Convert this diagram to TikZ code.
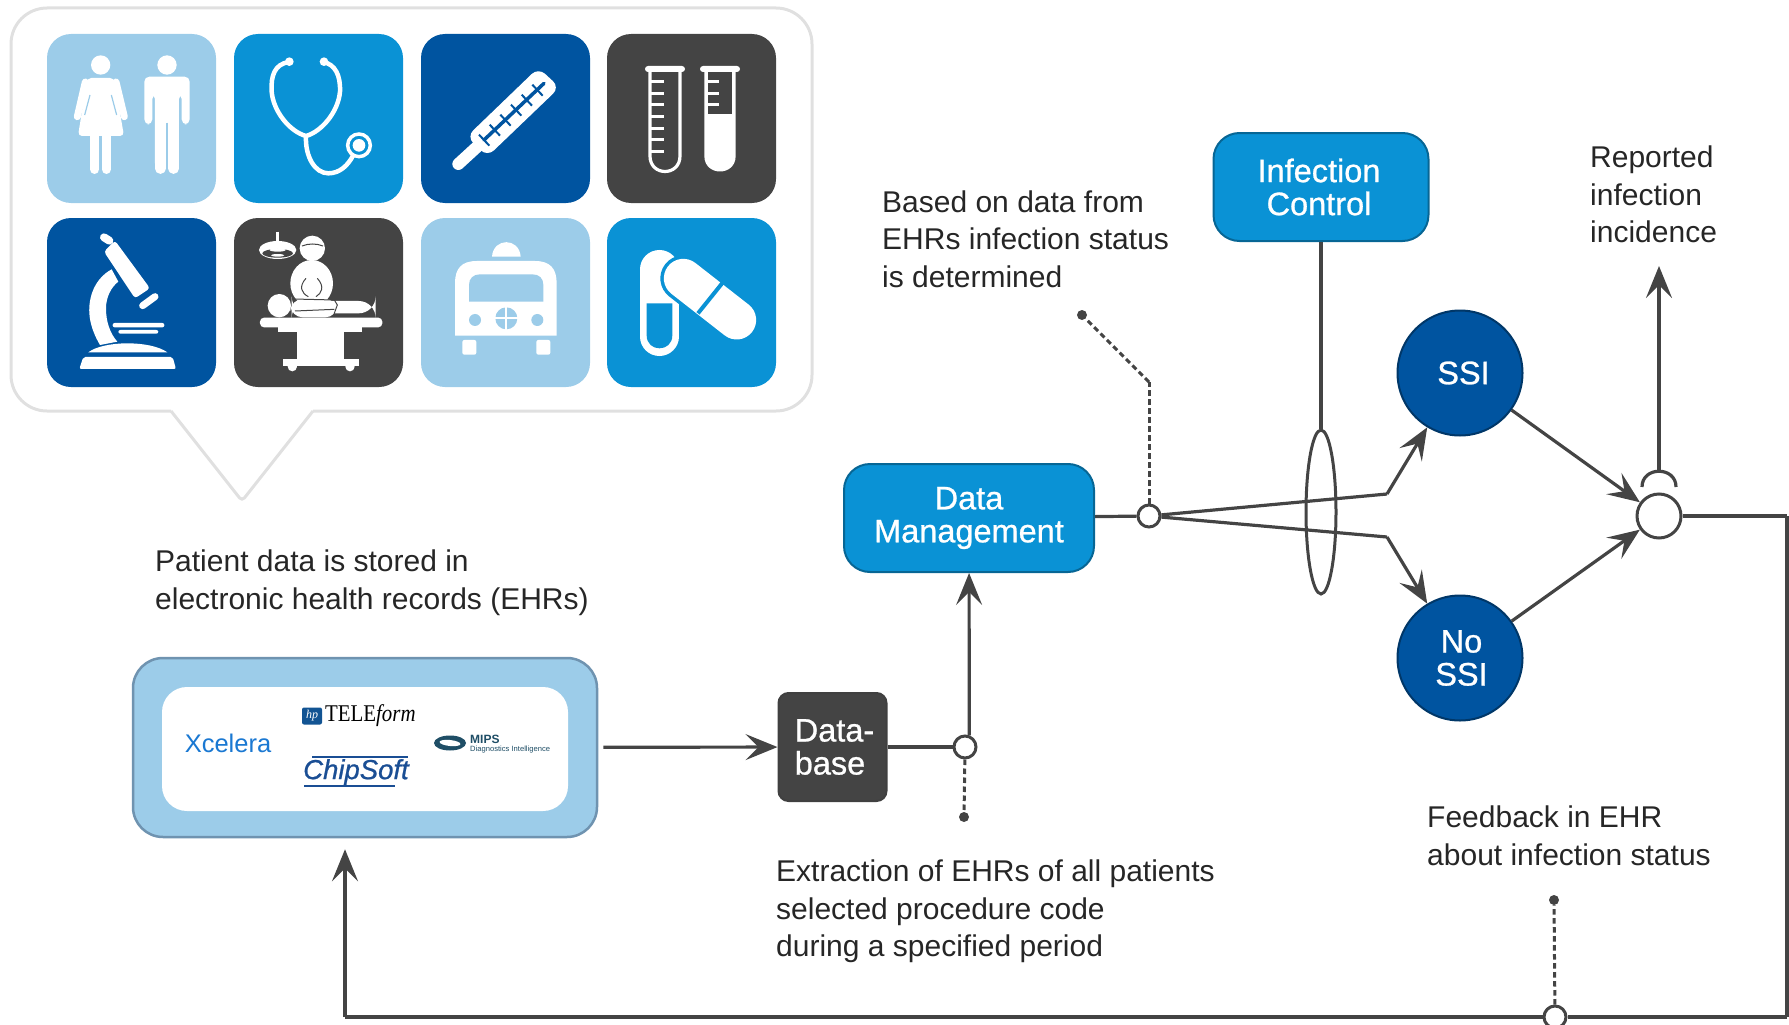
\documentclass[tikz,border=0pt]{standalone}
\usepackage{fontspec}
\setmainfont{Liberation Sans}
\newfontfamily\logoserif{Liberation Serif}
\newfontfamily\labelfont[FakeBold=0.8]{Liberation Sans}
\usetikzlibrary{arrows.meta,shapes.geometric}
\definecolor{tilelight}{HTML}{9CCCE9}
\definecolor{tileblue}{HTML}{0A92D5}
\definecolor{tilenavy}{HTML}{0054A0}
\definecolor{tiledark}{HTML}{444444}
\definecolor{linedark}{HTML}{444444}
\definecolor{calloutgrey}{HTML}{E0E0E0}
\definecolor{boxedge}{HTML}{6F93B0}
\definecolor{logoblue}{HTML}{1A78D2}
\definecolor{logonavy}{HTML}{1A4E94}
\definecolor{logoteal}{HTML}{1F4E66}
\tikzset{
  tile/.style={rectangle, rounded corners=24pt, minimum size=169pt, inner sep=0pt},
  textnote/.style={anchor=west, align=left, inner sep=0pt, text=black!85,
    font=\fontsize{30}{37.6}\selectfont},
  boxlabel/.style={text=white, align=center, font=\labelfont\fontsize{32.5}{33}\selectfont},
  lanebox/.style={rectangle, rounded corners=26pt, fill=tileblue, draw=tileblue!70!black,
    line width=2pt, inner sep=0pt, boxlabel},
  outcome/.style={circle, fill=tilenavy, draw=tilenavy!65!black, line width=2pt,
    minimum size=125pt, inner sep=0pt, boxlabel},
  junction/.style={circle, fill=white, draw=linedark, line width=3pt, inner sep=0pt},
  tinydot/.style={circle, fill=linedark, inner sep=0pt, minimum size=10pt},
}
\begin{document}
\begin{tikzpicture}[x=1pt,y=-1pt]
  % callout
  \draw[calloutgrey, line width=3pt, rounded corners=36pt] (171,411) -- (11,411) -- (11,8) -- (812,8) -- (812,411) -- (313,411);
  \draw[calloutgrey, line width=3pt, rounded corners=4pt] (171,411) -- (242,501) -- (313,411);

  % tiles
  \begin{scope}[every node/.style={tile}]
    \node[fill=tilelight] (people)  at (131.5,118.5) {};
    \node[fill=tileblue]  (stetho)  at (318.5,118.5) {};
    \node[fill=tilenavy]  (thermo)  at (505.5,118.5) {};
    \node[fill=tiledark]  (tubes)   at (691.5,118.5) {};
    \node[fill=tilenavy]  (micro)   at (131.5,302.5) {};
    \node[fill=tiledark]  (surgery) at (318.5,302.5) {};
    \node[fill=tilelight] (ambu)    at (505.5,302.5) {};
    \node[fill=tileblue]  (pills)   at (691.5,302.5) {};
  \end{scope}

  % icons of the two left columns
  \begin{scope}[scale=1/3, white]
    % woman
    \fill (302,195) circle[radius=29];
    \fill[rounded corners=4pt] (262,234) -- (342,234) -- (372,408) -- (234,408) -- cycle;
    \draw[line width=7pt, line cap=round] (256,246) -- (232,350);
    \draw[line width=7pt, line cap=round] (348,246) -- (373,350);
    \draw[tilelight, line width=1.2pt] (270,285) -- (254,345);
    \draw[tilelight, line width=1.2pt] (334,285) -- (350,345);
    \draw[line width=9.3pt, line cap=round] (284,400) -- (284,508);
    \draw[line width=9.3pt, line cap=round] (319,400) -- (319,508);
    % man
    \fill (501,195) circle[radius=29];
    \fill[rounded corners=5pt] (433,373) -- (433,230) -- (569,230) -- (569,373) -- (545,373) -- (545,282) -- (537,282) -- (537,505) -- (465,505) -- (465,282) -- (457,282) -- (457,373) -- cycle;
    \draw[line width=10.5pt, line cap=round] (481,490) -- (481,506);
    \draw[line width=10.5pt, line cap=round] (521,490) -- (521,506);
    \draw[tilelight, line width=2.6pt] (501,368) -- (501,525);
    % stethoscope
    \draw[line width=4.5pt] (866,186) .. controls (825,193) and (812,225) .. (815,275) .. controls (820,335) and (870,395) .. (918,408) .. controls (965,395) and (1015,335) .. (1020,275) .. controls (1022,225) and (1005,193) .. (970,186);
    \draw[line width=4.5pt] (918,408) .. controls (915,470) and (945,520) .. (985,520) .. controls (1020,520) and (1045,495) .. (1060,465);
    \draw[line width=3.5pt] (1077,436) circle[radius=34];
    \fill (1077,436) circle[radius=19];
    \fill (868,185) circle[radius=13];
    \fill (972,185) circle[radius=13];
    % microscope
    \fill[rounded corners=3pt] (312,755) -- (345,722) -- (450,865) -- (405,895) -- cycle;
    \draw[line width=8pt, line cap=round] (312,712) -- (328,722);
    \draw[line width=7pt, line cap=round] (428,917) -- (465,890);
    \fill (335,808) .. controls (285,835) and (265,890) .. (268,940) .. controls (270,975) and (285,1010) .. (300,1035) -- (352,1025) .. controls (330,1000) and (318,965) .. (318,925) .. controls (318,890) and (335,860) .. (355,845) -- cycle;
    \fill[rounded corners=2pt] (338,969) rectangle (493,982);
    \fill[rounded corners=2pt] (355,990) rectangle (475,1001);
    \fill (265,1057) .. controls (310,1022) and (450,1020) .. (502,1057) -- cycle;
    \fill[rounded corners=2pt] (250,1071) -- (518,1071) -- (528,1107) -- (238,1107) -- cycle;
    % surgeon and patient
    \draw[line width=3pt] (833,695) -- (833,725);
    \fill (833,750) ellipse[x radius=56, y radius=27];
    \fill[tiledark] (833,760) ellipse[x radius=46, y radius=13];
    \fill (833,750) ellipse[x radius=24, y radius=5];
    \fill (833,766) ellipse[x radius=20, y radius=4];
    \fill (937,745) circle[radius=38];
    \draw[tiledark, line width=1pt] (906,738) .. controls (925,730) and (950,730) .. (969,738);
    \fill (935,850) ellipse[x radius=64, y radius=70];
    \draw[tiledark, line width=1pt] (918,835) .. controls (895,860) and (905,880) .. (925,890);
    \draw[tiledark, line width=1pt] (952,835) .. controls (975,860) and (965,880) .. (948,890);
    \fill (838,917) circle[radius=35];
    \fill[rounded corners=17pt] (875,903) rectangle (1127,940);
    \fill[rounded corners=12pt] (872,897) rectangle (1012,952);
    \draw[tiledark, line width=1pt] (885,933) -- (1003,928);
    \draw[tiledark, line width=1pt] (880,897) -- (1003,900) -- (1012,915) -- (1000,948);
    \fill[rounded corners=4pt] (780,953) rectangle (1147,982);
    \fill (835,975) rectangle (1087,997);
    \fill (890,990) rectangle (1033,1080);
    \fill (850,1076) rectangle (1077,1097);
    \fill (877,1100) circle[radius=14];
    \fill (1050,1100) circle[radius=14];
  \end{scope}

  % icons of the two right columns
  \begin{scope}[shift={(410,0)}, scale=1/3, white]
    % thermometer
    \draw[line width=12pt, line cap=round] (145,492) -- (205,437);
    \fill[rounded corners=9pt] (170,410) -- (385,203) -- (449,262) -- (232,470) -- cycle;
    \draw[tilenavy, line width=3.5pt, line cap=round] (222,420) -- (402,250);
    \foreach \i in {0,...,5} {
      \draw[tilenavy, line width=2pt] ({222+32*\i-15},{420-30*\i-16}) -- ({222+32*\i+16},{420-30*\i+17});
    }
    % test tubes
    \fill[rounded corners=3pt] (705,198) rectangle (825,216);
    \fill[rounded corners=3pt] (870,198) rectangle (990,216);
    \draw[line width=3.2pt] (720,216) -- (720,468) .. controls (720,530) and (810,530) .. (810,468) -- (810,216);
    \foreach \y in {245,280,315,350,385,420,455} {
      \draw[line width=3pt] (720,\y) -- (762,\y);
    }
    \fill (883,216) -- (883,468) .. controls (883,530) and (977,530) .. (977,468) -- (977,216) -- cycle;
    \fill[tiledark] (895,216) rectangle (965,342);
    \foreach \y in {245,280,315} {
      \draw[line width=3pt] (893,\y) -- (927,\y);
    }
    % ambulance
    \fill (246,770) .. controls (250,712) and (328,712) .. (332,770) -- cycle;
    \fill (135,1007) -- (135,850) .. controls (135,805) and (155,783) .. (200,783) -- (375,783) .. controls (420,783) and (440,805) .. (440,850) -- (440,1007) -- cycle;
    \fill[tilelight] (177,905) -- (177,855) .. controls (177,835) and (190,823) .. (210,823) -- (367,823) .. controls (388,823) and (400,835) .. (400,855) -- (400,905) -- cycle;
    \fill[tilelight] (195,960) circle[radius=18];
    \fill[tilelight] (382,960) circle[radius=18];
    \fill[tilelight] (289,955) circle[radius=33];
    \draw[line width=2pt] (289,920) -- (289,990);
    \draw[line width=2pt] (254,955) -- (324,955);
    \fill[rounded corners=2pt] (157,1020) rectangle (199,1064);
    \fill[rounded corners=2pt] (379,1020) rectangle (421,1064);
    % capsules
    \draw[line width=38.7pt, line cap=round] (748,808) -- (748,1010);
    \fill[tileblue] (710,910) -- (787,910) -- (787,1006) .. controls (787,1058) and (710,1058) .. (710,1006) -- cycle;
    \draw[tileblue, line width=46pt, line cap=round] (820,835) -- (980,960);
    \draw[line width=39pt, line cap=round] (820,835) -- (980,960);
    \draw[tileblue, line width=4pt] (938,848) -- (864,940);
  \end{scope}

  % main nodes
  \node[rectangle, rounded corners=30pt, fill=tilelight, draw=boxedge, line width=2.5pt, minimum width=464pt, minimum height=179pt, inner sep=0pt] (ehr) at (365,747.5) {};
  \node[rectangle, rounded corners=25pt, fill=white, minimum width=406pt, minimum height=124pt, inner sep=0pt] (inner) at (365,749) {};
  \node[rectangle, rounded corners=10pt, fill=tiledark, draw=black!75, line width=2pt, minimum width=108pt, minimum height=108pt, inner sep=0pt, boxlabel, align=left] (db) at (832.5,747) {\hspace*{4pt}Data-\\\hspace*{4pt}base};
  \node[lanebox, minimum width=250pt, minimum height=108pt] (dm) at (969,518) {Data\\Management};
  \node[lanebox, minimum width=215pt, minimum height=108pt] (ic) at (1321,187) {Infection\hspace*{4pt}\\Control\hspace*{4pt}};
  \node[outcome] (ssi) at (1460,373) {\hspace*{7pt}SSI};
  \node[outcome] (nossi) at (1460,658) {\hspace*{3pt}No\\\hspace*{3pt}SSI};
  \node[ellipse, draw=linedark, line width=3pt, minimum width=30pt, minimum height=164pt, inner sep=0pt] (ring) at (1321,512) {};

  % logos
  \node[text=logoblue, font=\fontsize{25.5}{26}\selectfont, inner sep=0pt] (xcelera) at (228,743) {Xcelera};
  \node[rectangle, rounded corners=2pt, fill=logoblue!70!black, minimum width=20pt, minimum height=17pt, inner sep=0pt, text=white, font=\logoserif\itshape\fontsize{12}{12}\selectfont] (hp) at (312,716) {hp};
  \node[anchor=west, inner sep=0pt, xscale=.87, transform shape, font=\logoserif\fontsize{24}{24}\selectfont] (teleform) at (325,716) {TELE\textit{form}};
  \node[text=logonavy, font=\labelfont\itshape\fontsize{27.5}{27}\selectfont, inner sep=0pt] (chipsoft) at (356,772) {ChipSoft};
  \draw[logonavy, line width=1.5pt] (312,757) -- (408,757);
  \draw[logonavy, line width=1.5pt] (304,786) -- (395,786);
  \node[ellipse, fill=logoteal, minimum width=32pt, minimum height=15pt, inner sep=0pt] (swirl) at (450,743) {};
  \node[ellipse, fill=white, rotate=-6, minimum width=21pt, minimum height=6pt, inner sep=0pt] (swirlgap) at (450,743) {};
  \node[anchor=west, inner sep=0pt, text=logoteal, font=\bfseries\fontsize{12}{12}\selectfont] (mips) at (470,739) {MIPS};
  \node[anchor=west, inner sep=0pt, text=logoteal, font=\fontsize{7.6}{8}\selectfont] (diag) at (470,750) {Diagnostics Intelligence};

  % junctions
  \node[junction, minimum size=22pt] (split) at (965,747) {};
  \node[junction, minimum size=22pt] (fork) at (1149,516) {};
  \node[junction, minimum size=44pt] (sum) at (1659,516) {};
  \node[junction, minimum size=22pt] (back) at (1555,1017) {};
  \node[tinydot] (dota) at (964,817) {};
  \node[tinydot] (dotb) at (1082,315) {};
  \node[tinydot] (dotc) at (1554,900) {};

  \coordinate (bendup) at (1387,494);
  \coordinate (benddown) at (1387,537);
  \coordinate (dashbend) at (1149,382);
  \coordinate (captop) at (1659,471);
  \coordinate (report) at (1659,266);
  \coordinate (corner) at (1787,516);
  \coordinate (cornerb) at (1787,1017);
  \coordinate (cornerc) at (345,1017);

  % plain lines
  \begin{scope}[every edge/.style={draw=linedark, line width=3.2pt}]
    \path (db) edge (split);
    \path (dm) edge (fork);
    \path (fork) edge (bendup);
    \path (fork) edge (benddown);
    \path (ic) edge (ring);
    \path (sum) edge (corner);
    \path (corner) edge (cornerb);
    \path (cornerb) edge (back);
    \path (back) edge (cornerc);
  \end{scope}
  \draw[linedark, line width=3.2pt] (1642,487) .. controls (1642,466) and (1676,466) .. (1676,487);

  % arrows
  \begin{scope}[every edge/.style={draw=linedark, line width=3.2pt, ->, >={Stealth[length=32pt,width=26pt,inset=13pt]}}]
    \path (split.70) edge (dm);
    \path (ehr) edge[shorten <=5pt] (db);
    \path (bendup) edge (ssi);
    \path (benddown) edge (nossi);
    \path (ssi) edge (sum);
    \path (nossi) edge (sum);
    \path (captop) edge (report);
    \path (cornerc) edge[shorten >=11pt] (cornerc |- ehr.south);
  \end{scope}

  % dashed links
  \begin{scope}[every edge/.style={draw=linedark, line width=3pt, dash pattern=on 5.5pt off 3.5pt}]
    \path (split) edge (dota);
    \path (fork) edge (dashbend);
    \path (dashbend) edge (dotb);
    \path (back) edge (dotc);
  \end{scope}

  % notes
  \node[textnote] (notereport) at (1590,194.5) {Reported\\infection\\incidence};
  \node[textnote] (notestatus) at (882,239) {Based on data from\\EHRs infection status\\is determined};
  \node[textnote] (notestore) at (155,582.5) {Patient data is stored in\\electronic health records (EHRs)};
  \node[textnote] (noteextract) at (776,911.5) {Extraction of EHRs of all patients\\selected procedure code\\during a specified period};
  \node[textnote] (notefeed) at (1427,836) {Feedback in EHR\\about infection status};

  % page size
  \pgfresetboundingbox
  \useasboundingbox (0,0) rectangle (1789,1025);
\end{tikzpicture}
\end{document}
